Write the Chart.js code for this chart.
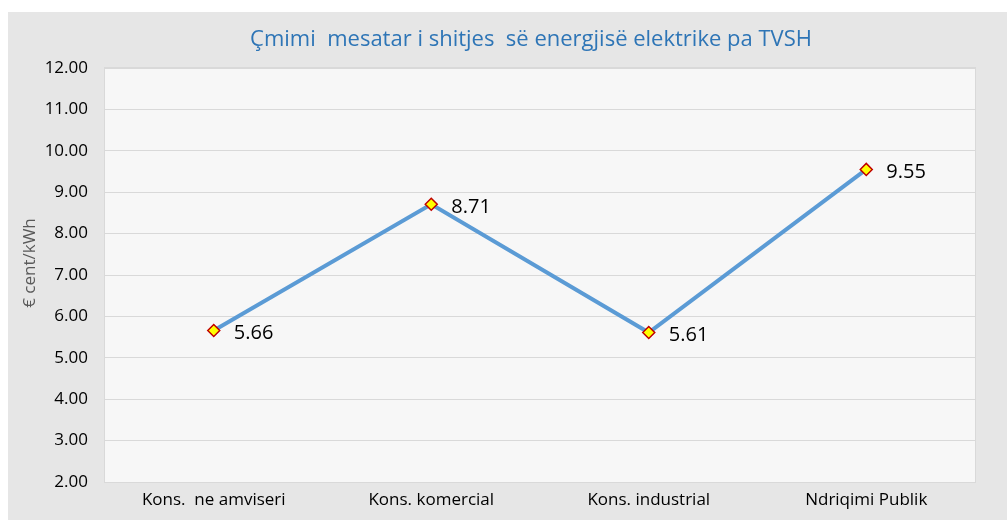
<!DOCTYPE html>
<html>
<head>
<meta charset="utf-8">
<script src="https://cdn.jsdelivr.net/npm/chart.js@4"></script>
<style>
  html, body { margin: 0; padding: 0; background: #ffffff; }
  #wrap {
    position: absolute;
    left: 8px;
    top: 12px;
    width: 999px;
    height: 508px;
    background: #e6e6e6;
  }
</style>
</head>
<body>
<div id="wrap"><canvas id="priceChart" width="999" height="508"></canvas></div>
<script>
const categories = ["Kons.  ne amviseri", "Kons. komercial", "Kons. industrial", "Ndriqimi Publik"];
const prices = [5.66, 8.71, 5.61, 9.55];
const chartTitle = "Çmimi  mesatar i shitjes  së energjisë elektrike pa TVSH";
const yAxisTitle = "€ cent/kWh";

const fontFamily = "'Open Sans', 'Noto Sans', sans-serif";

// plot background, title, axis title and value labels
const decorPlugin = {
  id: "decor",
  beforeDraw(chart) {
    const { ctx, chartArea } = chart;
    ctx.save();
    ctx.fillStyle = "#f7f7f7";
    ctx.fillRect(chartArea.left, chartArea.top, chartArea.right - chartArea.left, chartArea.bottom - chartArea.top);
    ctx.strokeStyle = "#d9d9d9";
    ctx.lineWidth = 1;
    ctx.strokeRect(chartArea.left - 0.5, chartArea.top - 0.5, chartArea.right - chartArea.left + 1, chartArea.bottom - chartArea.top + 1);
    ctx.restore();
  },
  afterDraw(chart) {
    const { ctx, chartArea } = chart;
    ctx.save();
    ctx.font = "22px " + fontFamily;
    ctx.fillStyle = "#2e75b6";
    ctx.textAlign = "center";
    ctx.textBaseline = "middle";
    ctx.fillText(chartTitle, (chartArea.left + chartArea.right) / 2 - 9, 28);

    ctx.save();
    ctx.translate(22, 251);
    ctx.rotate(-Math.PI / 2);
    ctx.font = "17px " + fontFamily;
    ctx.fillStyle = "#595959";
    ctx.fillText(yAxisTitle, 0, 0);
    ctx.restore();

    const meta = chart.getDatasetMeta(0);
    ctx.font = "20px " + fontFamily;
    ctx.fillStyle = "#000000";
    ctx.textAlign = "left";
    meta.data.forEach((pt, i) => {
      ctx.fillText(prices[i].toFixed(2), pt.x + 20, pt.y + 3);
    });
    ctx.restore();
  },
};

new Chart(document.getElementById("priceChart"), {
  type: "line",
  data: {
    labels: categories,
    datasets: [
      {
        data: prices,
        borderColor: "#5b9bd5",
        borderWidth: 4,
        tension: 0,
        pointStyle: "rectRot",
        pointRadius: 6,
        pointHoverRadius: 6,
        pointBackgroundColor: "#ffff00",
        pointBorderColor: "#c00000",
        pointBorderWidth: 1.5,
      },
    ],
  },
  options: {
    responsive: false,
    animation: false,
    layout: { padding: { left: 0, top: 56, right: 32, bottom: 0 } },
    plugins: {
      legend: { display: false },
      title: { display: false },
      tooltip: { enabled: false },
    },
    scales: {
      x: {
        offset: true,
        grid: { display: false, drawTicks: false },
        border: { display: false },
        ticks: {
          color: "#000000",
          padding: 8,
          font: { family: fontFamily, size: 17 },
        },
        afterFit(scale) {
          scale.height = 38;
        },
      },
      y: {
        min: 2,
        max: 12,
        ticks: {
          stepSize: 1,
          color: "#000000",
          padding: 17,
          font: { family: fontFamily, size: 17 },
          callback: (v) => v.toFixed(2),
        },
        grid: { color: "#d9d9d9", drawTicks: false },
        border: { display: false },
        afterFit(scale) {
          scale.width = 97;
        },
      },
    },
  },
  plugins: [decorPlugin],
});
</script>
</body>
</html>
